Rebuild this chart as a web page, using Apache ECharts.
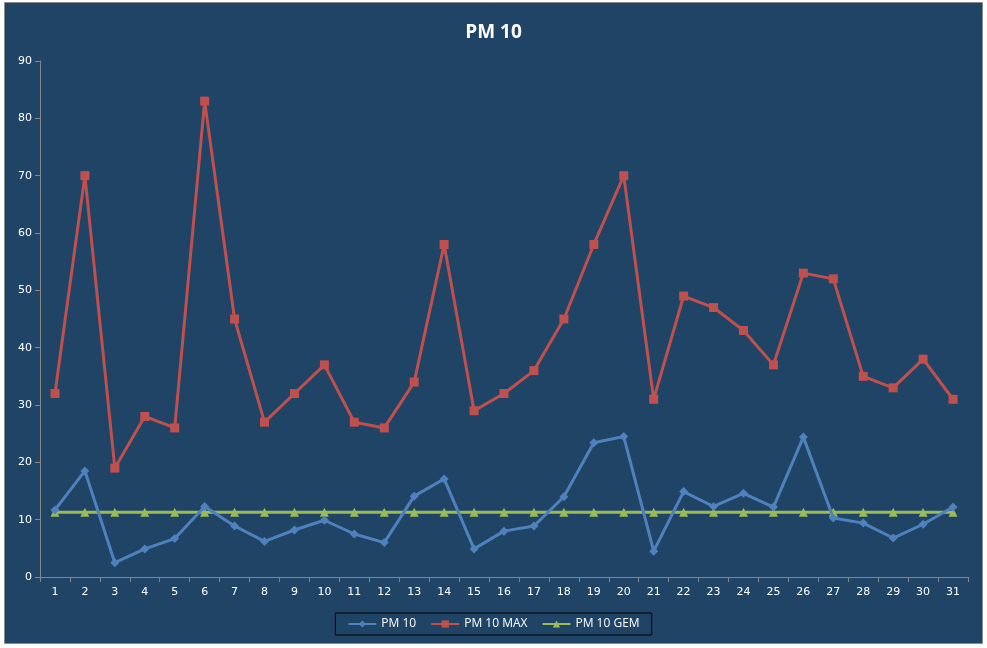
<!DOCTYPE html>
<html>
<head>
<meta charset="utf-8">
<script src="https://cdn.jsdelivr.net/npm/echarts@6/dist/echarts.min.js"></script>
<style>
  html, body { margin: 0; padding: 0; background: #ffffff; }
  #main { width: 987px; height: 648px; }
</style>
</head>
<body>
<div id="main"></div>
<script>
// days of the month
var days = [];
for (var d = 1; d <= 31; d++) days.push(String(d));

var pm10 = [11.7, 18.5, 2.5, 4.9, 6.7, 12.3, 8.9, 6.2, 8.2, 9.9, 7.5, 6.0, 14.1, 17.1, 4.9, 8.0,
  8.9, 14.0, 23.4, 24.5, 4.5, 14.9, 12.3, 14.6, 12.2, 24.4, 10.3, 9.4, 6.8, 9.2, 12.2];
var pm10Max = [32, 70, 19, 28, 26, 83, 45, 27, 32, 37, 27, 26, 34, 58, 29, 32,
  36, 45, 58, 70, 31, 49, 47, 43, 37, 53, 52, 35, 33, 38, 31];
var pm10Gem = [11.3, 11.3, 11.3, 11.3, 11.3, 11.3, 11.3, 11.3, 11.3, 11.3, 11.3, 11.3, 11.3, 11.3, 11.3, 11.3,
  11.3, 11.3, 11.3, 11.3, 11.3, 11.3, 11.3, 11.3, 11.3, 11.3, 11.3, 11.3, 11.3, 11.3, 11.3];

var chart = echarts.init(document.getElementById('main'));

var option = {
  animation: false,
  backgroundColor: 'transparent',
  color: ['#4F81BD', '#C0504D', '#9BBB59'],
  graphic: [
    {
      type: 'rect',
      z: -10,
      shape: { x: 4.5, y: 2.5, width: 978, height: 641 },
      style: { fill: '#1F4466', stroke: '#8a8a8a', lineWidth: 1 }
    }
  ],
  title: {
    text: 'PM 10',
    left: 'center',
    top: 18,
    textStyle: {
      color: '#ffffff',
      fontFamily: 'Open Sans',
      fontWeight: 'bold',
      fontSize: 19
    }
  },
  legend: {
    data: ['PM 10', 'PM 10 MAX', 'PM 10 GEM'],
    bottom: 13,
    left: 'center',
    itemGap: 14,
    itemWidth: 28,
    itemHeight: 9,
    padding: [5, 12, 5, 12],
    borderColor: '#000000',
    borderWidth: 1,
    borderRadius: 0,
    textStyle: {
      color: '#ffffff',
      fontFamily: 'Open Sans',
      fontSize: 12
    }
  },
  grid: {
    left: 40,
    right: 19,
    top: 61,
    bottom: 71,
    containLabel: false
  },
  xAxis: {
    type: 'category',
    data: days,
    boundaryGap: true,
    axisLine: { lineStyle: { color: '#868686', width: 1 } },
    axisTick: { show: true, length: 5, lineStyle: { color: '#868686' } },
    axisLabel: {
      color: '#ffffff',
      fontFamily: 'DejaVu Sans',
      fontSize: 11,
      margin: 10,
      interval: 0
    },
    splitLine: { show: false }
  },
  yAxis: {
    type: 'value',
    min: 0,
    max: 90,
    interval: 10,
    axisLine: { show: true, lineStyle: { color: '#868686', width: 1 } },
    axisTick: { show: true, length: 5, lineStyle: { color: '#868686' } },
    axisLabel: {
      color: '#ffffff',
      fontFamily: 'DejaVu Sans',
      fontSize: 11,
      margin: 8
    },
    splitLine: { show: false }
  },
  series: [
    {
      name: 'PM 10',
      type: 'line',
      data: pm10,
      symbol: 'diamond',
      symbolSize: 9,
      lineStyle: { width: 3 },
      z: 4
    },
    {
      name: 'PM 10 MAX',
      type: 'line',
      data: pm10Max,
      symbol: 'rect',
      symbolSize: 9,
      lineStyle: { width: 3 },
      z: 3
    },
    {
      name: 'PM 10 GEM',
      type: 'line',
      data: pm10Gem,
      symbol: 'triangle',
      symbolSize: 9,
      lineStyle: { width: 3 },
      z: 2
    }
  ]
};

chart.setOption(option);
</script>
</body>
</html>
